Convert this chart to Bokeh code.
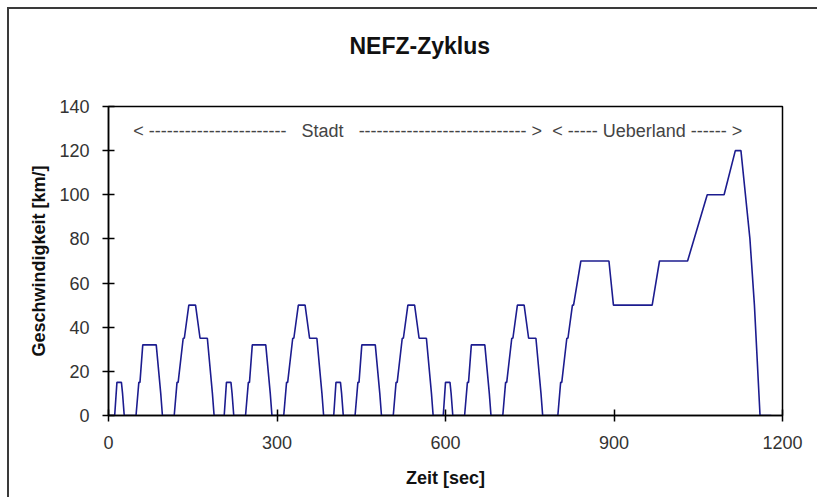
from bokeh.plotting import figure
from bokeh.models import Range1d, FixedTicker, Label, Title
from bokeh.embed import file_html
from bokeh.resources import INLINE

# NEFZ (NEDC) breakpoints: time [s] and speed [km/h]
city_time = [0, 11, 15, 23, 25, 28, 49, 54, 56, 61, 85, 93, 96, 117, 122, 124, 133, 135, 143, 155, 163, 176, 185, 188,
             195, 206, 210, 218, 220, 223, 244, 249, 251, 256, 280, 288, 291, 312, 317, 319, 328, 330, 338, 350, 358, 371, 380, 383,
             390, 401, 405, 413, 415, 418, 439, 444, 446, 451, 475, 483, 486, 507, 512, 514, 523, 525, 533, 545, 553, 566, 575, 578,
             585, 596, 600, 608, 610, 613, 634, 639, 641, 646, 670, 678, 681, 702, 707, 709, 718, 720, 728, 740, 748, 761, 770, 773]
city_speed = [0, 0, 15, 15, 10, 0, 0, 15, 15, 32, 32, 10, 0, 0, 15, 15, 35, 35, 50, 50, 35, 35, 10, 0,
              0, 0, 15, 15, 10, 0, 0, 15, 15, 32, 32, 10, 0, 0, 15, 15, 35, 35, 50, 50, 35, 35, 10, 0,
              0, 0, 15, 15, 10, 0, 0, 15, 15, 32, 32, 10, 0, 0, 15, 15, 35, 35, 50, 50, 35, 35, 10, 0,
              0, 0, 15, 15, 10, 0, 0, 15, 15, 32, 32, 10, 0, 0, 15, 15, 35, 35, 50, 50, 35, 35, 10, 0]
rural_time = [780, 800, 805, 807, 816, 818, 826, 828, 841, 891, 899, 968, 981, 1031, 1066, 1096, 1116, 1126, 1142, 1150, 1160, 1180]
rural_speed = [0, 0, 15, 15, 35, 35, 50, 50, 70, 70, 50, 50, 70, 70, 100, 100, 120, 120, 80, 50, 0, 0]

x_ticks = [0, 300, 600, 900, 1200]
y_ticks = [0, 20, 40, 60, 80, 100, 120, 140]

time = city_time + rural_time
speed = city_speed + rural_speed

FONT = "Liberation Sans"
NB = "\u00a0"

p = figure(width=810, height=490, output_backend="svg", toolbar_location=None,
           x_range=Range1d(0, 1200), y_range=Range1d(0, 140),
           min_border_left=99, min_border_right=37, min_border_top=97, min_border_bottom=84)
p.styles = {"border-left": "2px solid #3a3a3a", "border-top": "2px solid #3a3a3a",
            "margin-top": "7px", "margin-left": "7px"}

p.line(time, speed, line_color="#1c1c8f", line_width=1.6)

# spacer between the frame and the chart title
p.add_layout(Title(text=" ", text_font_size="1px", standoff=40), "above")

p.title.text = "NEFZ-Zyklus"
p.title.text_font = FONT
p.title.text_font_size = "23px"
p.title.text_font_style = "bold"
p.title.text_color = "#111111"
p.title.align = "left"
p.title.offset = 241
p.title.vertical_align = "bottom"
p.title.standoff = 10

p.grid.visible = False
p.outline_line_color = "black"
p.outline_line_width = 1.5
p.outline_line_alpha = 1.0

for ax in (p.xaxis[0], p.yaxis[0]):
    ax.axis_line_color = "black"
    ax.axis_line_width = 1.5
    ax.major_tick_line_color = "black"
    ax.major_tick_line_width = 1.5
    ax.major_tick_out = 6
    ax.major_tick_in = 6
    ax.minor_tick_out = 0
    ax.minor_tick_in = 0
    ax.major_label_text_font = FONT
    ax.major_label_text_font_size = "18px"
    ax.major_label_text_color = "#333333"
    ax.axis_label_text_font = FONT
    ax.axis_label_text_font_size = "18px"
    ax.axis_label_text_font_style = "bold"
    ax.axis_label_text_color = "#111111"

p.xaxis.ticker = FixedTicker(ticks=x_ticks)
p.yaxis.ticker = FixedTicker(ticks=y_ticks)
p.xaxis.axis_label = "Zeit [sec]"
p.yaxis.axis_label = "Geschwindigkeit [km/]"
p.xaxis.major_label_standoff = 14
p.yaxis.major_label_standoff = 13
p.xaxis.axis_label_standoff = 16
p.yaxis.axis_label_standoff = 7

stadt = "<" + NB + "-" * 23 + NB * 3 + "Stadt" + NB * 3 + "-" * 28 + NB + ">"
land = "<" + NB + "-" * 5 + NB + "Ueberland" + NB + "-" * 6 + NB + ">"
p.add_layout(Label(x=44, y=128.7, text=stadt, text_font=FONT, text_font_size="18px",
                   text_color="#444444", text_baseline="middle", text_align="left"))
p.add_layout(Label(x=790, y=128.7, text=land, text_font=FONT, text_font_size="18px",
                   text_color="#444444", text_baseline="middle", text_align="left"))

open("out.html", "w").write(file_html(p, INLINE))
